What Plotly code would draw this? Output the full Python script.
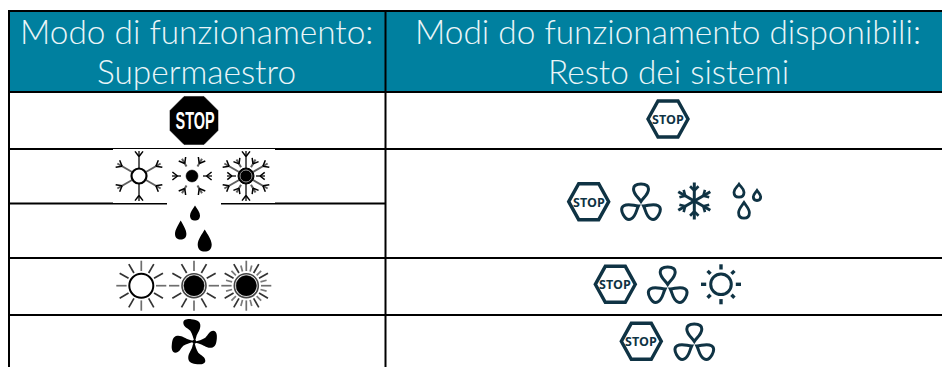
import math
import plotly.graph_objects as go

# ---- table content ----
header_lines = [
    ("Modo di funzionamento:", 196, 31),
    ("Supermaestro", 196, 71),
    ("Modi do funzionamento disponibili:", 667.5, 31),
    ("Resto dei sistemi", 668, 71),
]
full_rules_y = [92, 149, 258, 315]
left_rules_y = [203.5]
col_x = [9, 385.5]
TEAL = "#00809F"
DARK = "#0F3344"
BLACK = "#000000"
GRAY = "#5E5E5E"
LINE_W = 2

# icon placements
black_stop = [(194, 120.5)]
snow_open = [(139, 176)]
snow_small = [(192, 176)]
snow_full = [(246, 176)]
black_drops = [(195, 213, 5, 15), (180.7, 230, 5.7, 19), (204.7, 240.5, 7, 22)]
sun_open = [(141.3, 285.7)]
sun_full = [(194, 285.7)]
sun_dense = [(246.3, 285.7)]
black_fan = [(194.3, 341.7)]
dark_stop = [(668, 119), (588.7, 201.7), (615.3, 284.3), (641.3, 341.3)]
dark_fan = [(641, 204.5), (667.7, 287.5), (694.3, 344.5)]
dark_snow = [(694.3, 201)]
dark_drops = [(739, 190.7, 5, 13), (757, 195.5, 3.7, 10), (744, 210.3, 5.4, 15.5)]
dark_sun = [(721, 284.3)]

shapes = []
annotations = []


def add_path(d, fill=None, color=None, width=0):
    shapes.append(dict(type="path", path=d, xref="x", yref="y",
                       fillcolor=fill if fill else "rgba(0,0,0,0)",
                       line=dict(color=color if color else "rgba(0,0,0,0)", width=width), layer="above"))


def add_line(x0, y0, x1, y1, color=BLACK, width=1.0):
    shapes.append(dict(type="line", x0=x0, y0=y0, x1=x1, y1=y1, xref="x", yref="y",
                       line=dict(color=color, width=width), layer="above"))


def add_circle(cx, cy, r, fill=None, color=None, width=0):
    shapes.append(dict(type="circle", x0=cx - r, x1=cx + r, y0=cy - r, y1=cy + r, xref="x", yref="y",
                       fillcolor=fill if fill else "rgba(0,0,0,0)",
                       line=dict(color=color if color else "rgba(0,0,0,0)", width=width), layer="above"))


def polar(cx, cy, r, deg):
    a = math.radians(deg)
    return cx + r * math.cos(a), cy + r * math.sin(a)


def poly(pts):
    return "M " + " L ".join(f"{x:.2f},{y:.2f}" for x, y in pts) + " Z"


def rot_path(cx, cy, segs, deg):
    a = math.radians(deg)
    c, s = math.cos(a), math.sin(a)
    out = []
    for seg in segs:
        cmd, pts = seg[0], seg[1:]
        tr = [f"{cx + x * c - y * s:.2f},{cy + x * s + y * c:.2f}" for x, y in pts]
        out.append(cmd + " " + " ".join(tr))
    return " ".join(out) + " Z"


def fork(cx, cy, r_stem_in, r_tip, deg, color=BLACK, w=1.5, fork_at=None, spread=38, fl=6.5, stem=GRAY):
    x0, y0 = polar(cx, cy, r_stem_in, deg)
    x1, y1 = polar(cx, cy, r_tip, deg)
    add_line(x0, y0, x1, y1, stem, 2)
    fx, fy = polar(cx, cy, fork_at if fork_at else r_tip - 5, deg)
    for sgn in (-1, 1):
        ex, ey = polar(fx, fy, fl, deg + sgn * spread)
        add_line(fx, fy, ex, ey, color, w)


def snowflake_open(cx, cy):
    for d in range(-90, 270, 60):
        fork(cx, cy, 8, 25, d, fork_at=19.5)
    add_circle(cx, cy, 7.5, "#FFFFFF", BLACK, 2.2)


def snowflake_small(cx, cy):
    for d in (0, 60, 120, 180, 240, 300):
        fork(cx, cy, 11, 20, d, fork_at=14.5, fl=6.5)
    add_circle(cx, cy, 6, BLACK, BLACK, 0.5)


def snowflake_full(cx, cy):
    for d in range(-90, 270, 60):
        fork(cx, cy, 8, 25, d, fork_at=19.5)
    for d in range(-60, 300, 60):
        fork(cx, cy, 10, 19, d, fork_at=14, fl=6)
    add_circle(cx, cy, 8, BLACK, BLACK, 1)
    add_circle(cx, cy, 6, BLACK, "#9A9A9A", 1)


def drop_path(cx, cy, hw, h):
    top = cy - h / 2
    bot = cy + h / 2
    my = bot - hw
    return (f"M {cx:.2f},{top:.2f} C {cx + hw * 0.4:.2f},{top + h * 0.22:.2f} {cx + hw:.2f},{my - hw * 0.7:.2f} {cx + hw:.2f},{my:.2f} "
            f"C {cx + hw:.2f},{my + hw * 0.75:.2f} {cx + hw * 0.55:.2f},{bot:.2f} {cx:.2f},{bot:.2f} "
            f"C {cx - hw * 0.55:.2f},{bot:.2f} {cx - hw:.2f},{my + hw * 0.75:.2f} {cx - hw:.2f},{my:.2f} "
            f"C {cx - hw:.2f},{my - hw * 0.7:.2f} {cx - hw * 0.4:.2f},{top + h * 0.22:.2f} {cx:.2f},{top:.2f} Z")


def sun(cx, cy, kind):
    for i in range(12):
        d = i * 30
        col = "#6E6E6E" if i % 3 == 0 else "#333333"
        x0, y0 = polar(cx, cy, 14.7, d)
        x1, y1 = polar(cx, cy, 25, d)
        add_line(x0, y0, x1, y1, col, 1.7)
    if kind == "dense":
        for i in range(12):
            d = 15 + i * 30
            x0, y0 = polar(cx, cy, 14.7, d)
            x1, y1 = polar(cx, cy, 21, d)
            add_line(x0, y0, x1, y1, "#7A7A7A", 1.7)
    if kind == "open":
        add_circle(cx, cy, 12, "#FFFFFF", BLACK, 2)
    else:
        add_circle(cx, cy, 12, "#FFFFFF", "#444444", 1.6)
        add_circle(cx, cy, 10.2, BLACK, BLACK, 0.5)


def black_fan_icon(cx, cy):
    blade = [
        ("M", (0, 0)),
        ("C", (-1, -4), (-2, -8), (-4, -11)),
        ("C", (-7, -14), (-11, -15), (-11, -19)),
        ("C", (-11, -22), (-7, -23), (-3, -22.5)),
        ("C", (2, -22), (5.5, -21), (6, -17)),
        ("C", (6.5, -12), (3, -9), (2, -5)),
        ("C", (1.5, -3), (1, -1), (0, 0)),
    ]
    for d in (0, 90, 180, 270):
        add_path(rot_path(cx, cy, blade, d), fill=BLACK)
    add_circle(cx, cy, 2, BLACK)


def stop_black(cx, cy):
    pts = [polar(cx, cy, 26, 22.5 + 45 * i) for i in range(8)]
    add_path(poly(pts), fill=BLACK, color=BLACK, width=0.5)
    annotations.append(dict(text="<b>STOP</b>", x=cx + 0.5, y=cy + 0.5, xref="x", yref="y", showarrow=False,
                            font=dict(family="Liberation Sans", size=23, color="#FFFFFF")))


def stop_dark(cx, cy):
    hw, hh, inset = 20, 18, 10
    pts = [(cx - hw, cy), (cx - hw + inset, cy - hh), (cx + hw - inset, cy - hh),
           (cx + hw, cy), (cx + hw - inset, cy + hh), (cx - hw + inset, cy + hh)]
    add_path(poly(pts), color=DARK, width=3.4)
    annotations.append(dict(text="<b>STOP</b>", x=cx, y=cy + 0.5, xref="x", yref="y", showarrow=False,
                            font=dict(family="Open Sans", size=12.5, color=DARK)))


def fan_dark(cx, cy):
    petal = [
        ("M", (0, -3)),
        ("C", (-2.5, -7), (-7.5, -10), (-7.5, -15.5)),
        ("C", (-7.5, -19), (-4, -20.5), (0, -20.5)),
        ("C", (4, -20.5), (7.5, -19), (7.5, -15.5)),
        ("C", (7.5, -10), (2.5, -7), (0, -3)),
    ]
    for d in (0, 120, 240):
        add_path(rot_path(cx, cy, petal, d), color=DARK, width=3)


def snow_dark(cx, cy):
    for d in range(-90, 270, 60):
        x1, y1 = polar(cx, cy, 18.5, d)
        add_line(cx, cy, x1, y1, DARK, 3)
        fx, fy = polar(cx, cy, 10.5, d)
        for sgn in (-1, 1):
            ex, ey = polar(fx, fy, 6, d + sgn * 45)
            add_line(fx, fy, ex, ey, DARK, 2.6)


def sun_dark(cx, cy):
    add_circle(cx, cy, 10.3, None, DARK, 3)
    for i in range(8):
        x0, y0 = polar(cx, cy, 14.8, 45 * i)
        x1, y1 = polar(cx, cy, 20 if i % 2 == 0 else 19, 45 * i)
        add_line(x0, y0, x1, y1, DARK, 3.4)


# ---- table body ----
shapes.append(dict(type="rect", x0=9, x1=942, y0=11, y1=92, xref="x", yref="y",
                   fillcolor=TEAL, line=dict(width=0), layer="below"))
add_line(8, 11, 942, 11, BLACK, LINE_W)
for y in full_rules_y:
    add_line(8, y, 942, y, BLACK, LINE_W)
for y in left_rules_y:
    add_line(8, y, 385.5, y, BLACK, LINE_W)
for x in col_x:
    add_line(x, 10, x, 367, BLACK, LINE_W)

# white image patches that clip the rules behind the snowflakes
shapes.append(dict(type="rect", x0=113, x1=275, y0=149, y1=203, xref="x", yref="y",
                   fillcolor="#FFFFFF", line=dict(width=0), layer="above"))
shapes.append(dict(type="rect", x0=167, x1=221, y0=202, y1=205, xref="x", yref="y",
                   fillcolor="#FFFFFF", line=dict(width=0), layer="above"))

# ---- left column icons ----
for c in black_stop:
    stop_black(*c)
for c in snow_open:
    snowflake_open(*c)
for c in snow_small:
    snowflake_small(*c)
for c in snow_full:
    snowflake_full(*c)
for x, y, hw, h in black_drops:
    add_path(drop_path(x, y, hw, h), fill=BLACK)
for c in sun_open:
    sun(*c, "open")
for c in sun_full:
    sun(*c, "full")
for c in sun_dense:
    sun(*c, "dense")
for c in black_fan:
    black_fan_icon(*c)

# ---- right column icons ----
for c in dark_stop:
    stop_dark(*c)
for c in dark_fan:
    fan_dark(*c)
for c in dark_snow:
    snow_dark(*c)
for x, y, hw, h in dark_drops:
    add_path(drop_path(x, y, hw, h), color=DARK, width=2.8)
for c in dark_sun:
    sun_dark(*c)

# ---- header text ----
for text, x, y in header_lines:
    annotations.append(dict(text=text, x=x, y=y, xref="x", yref="y", showarrow=False,
                            font=dict(family="Lato", size=33.4, color="#EAF5F8", weight=300)))

fig = go.Figure()
fig.update_layout(
    width=942, height=367, margin=dict(l=0, r=0, t=0, b=0),
    paper_bgcolor="#FFFFFF", plot_bgcolor="#FFFFFF", showlegend=False,
    xaxis=dict(range=[0, 942], visible=False, fixedrange=True),
    yaxis=dict(range=[367, 0], visible=False, fixedrange=True),
    shapes=shapes, annotations=annotations,
)
post = """
document.body.style.margin='0';document.body.style.overflow='hidden';
document.querySelectorAll('.annotation-text').forEach(function(t){
  if(t.textContent==='STOP' && t.style.fill.indexOf('255, 255, 255')>=0){
    t.setAttribute('textLength','39');t.setAttribute('lengthAdjust','spacingAndGlyphs');
  }
});
"""
fig.write_html("out.html", config=dict(displayModeBar=False), post_script=post)
